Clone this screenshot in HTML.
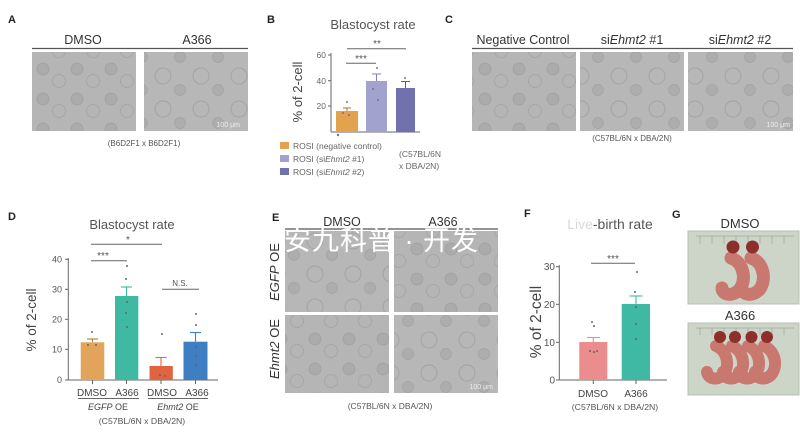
<!DOCTYPE html>
<html><head><meta charset="utf-8"><style>
html,body{margin:0;padding:0;background:#fff;}
svg{display:block;}
text{font-family:"Liberation Sans","Noto Sans CJK SC",sans-serif;}
</style></head><body>
<svg width="800" height="436" viewBox="0 0 800 436" xmlns="http://www.w3.org/2000/svg">
<defs>
<pattern id="e1" width="34" height="30" patternUnits="userSpaceOnUse">
<rect width="34" height="30" fill="#b5b5b5"/>
<circle cx="9" cy="9" r="6" fill="#ababab" stroke="#a0a0a0" stroke-width="0.8"/>
<circle cx="25" cy="21" r="6.5" fill="none" stroke="#a3a3a3" stroke-width="0.8"/>
</pattern>
<pattern id="e2" width="38" height="33" patternUnits="userSpaceOnUse">
<rect width="38" height="33" fill="#b7b7b7"/>
<circle cx="11" cy="10" r="8" fill="none" stroke="#a2a2a2" stroke-width="0.9"/>
<circle cx="28" cy="24" r="5.5" fill="#adadad" stroke="#a2a2a2" stroke-width="0.7"/>
</pattern>
</defs>

<!-- panel labels -->
<g font-weight="bold" font-size="11" fill="#222">
<text x="8" y="23">A</text>
<text x="267" y="23">B</text>
<text x="445" y="23">C</text>
<text x="8" y="220">D</text>
<text x="272" y="221">E</text>
<text x="524" y="217">F</text>
<text x="672" y="218">G</text>
</g>

<!-- A -->
<g font-size="12.5" fill="#333" text-anchor="middle">
<text x="83" y="44">DMSO</text>
<text x="197" y="44">A366</text>
</g>
<line x1="32" y1="48.5" x2="248" y2="48.5" stroke="#555" stroke-width="1.2"/>
<rect x="32" y="52" width="104" height="79" fill="url(#e1)"/>
<rect x="144" y="52" width="104" height="79" fill="url(#e2)"/>
<text x="240" y="127" font-size="7" fill="#eee" text-anchor="end">100 μm</text>
<text x="144" y="146" font-size="8" fill="#555" text-anchor="middle">(B6D2F1 x B6D2F1)</text>

<!-- B -->
<text x="373" y="29" font-size="13" fill="#555" text-anchor="middle">Blastocyst rate</text>
<text transform="translate(302,92) rotate(-90)" font-size="13" fill="#444" text-anchor="middle">% of 2-cell</text>
<g stroke="#666" stroke-width="1">
<line x1="331" y1="53" x2="331" y2="132"/>
<line x1="331" y1="132" x2="420" y2="132"/>
<line x1="328" y1="55" x2="331" y2="55"/>
<line x1="328" y1="80.7" x2="331" y2="80.7"/>
<line x1="328" y1="106" x2="331" y2="106"/>
</g>
<g font-size="8.5" fill="#666" text-anchor="end">
<text x="326" y="58">60</text>
<text x="326" y="84">40</text>
<text x="326" y="109">20</text>
</g>
<rect x="336" y="111" width="22" height="21" fill="#e2a24e"/>
<rect x="366" y="81" width="21" height="51" fill="#a2a2cf"/>
<rect x="396" y="88" width="19" height="44" fill="#7172ad"/>
<g stroke-width="1">
<line x1="347" y1="111" x2="347" y2="108" stroke="#b07020"/><line x1="343" y1="108" x2="351" y2="108" stroke="#b07020"/>
<line x1="376.5" y1="81" x2="376.5" y2="74" stroke="#8080b8"/><line x1="372" y1="74" x2="381" y2="74" stroke="#8080b8"/>
<line x1="405.5" y1="88" x2="405.5" y2="81.5" stroke="#5a5a98"/><line x1="401" y1="81.5" x2="410" y2="81.5" stroke="#5a5a98"/>
</g>
<g fill="#777">
<circle cx="347" cy="102" r="1"/><circle cx="343" cy="113" r="1"/><circle cx="349" cy="115" r="1"/><circle cx="338" cy="135" r="1.2"/>
<circle cx="377" cy="68" r="1"/><circle cx="373" cy="89" r="1"/><circle cx="378" cy="100" r="1"/>
<circle cx="405" cy="78" r="1"/><circle cx="404" cy="98" r="1"/>
</g>
<g stroke="#666" stroke-width="1">
<line x1="346" y1="63.3" x2="376" y2="63.3"/>
<line x1="347" y1="48.7" x2="406" y2="48.7"/>
</g>
<g font-size="10" fill="#555" text-anchor="middle">
<text x="361" y="62">***</text>
<text x="377" y="47">**</text>
</g>
<rect x="280" y="142" width="9" height="7" fill="#e2a24e"/>
<rect x="280" y="155" width="9" height="7" fill="#a2a2cf"/>
<rect x="280" y="168" width="9" height="7" fill="#7172ad"/>
<g font-size="8.5" fill="#666">
<text x="293" y="149">ROSI (negative control)</text>
<text x="293" y="162">ROSI (si<tspan font-style="italic">Ehmt2</tspan> #1)</text>
<text x="293" y="175">ROSI (si<tspan font-style="italic">Ehmt2</tspan> #2)</text>
<text x="399" y="157">(C57BL/6N</text>
<text x="399" y="169">x DBA/2N)</text>
</g>

<!-- C -->
<g font-size="12.5" fill="#333" text-anchor="middle">
<text x="523" y="44">Negative Control</text>
<text x="632" y="44">si<tspan font-style="italic">Ehmt2</tspan> #1</text>
<text x="740" y="44">si<tspan font-style="italic">Ehmt2</tspan> #2</text>
</g>
<line x1="472" y1="48.5" x2="793" y2="48.5" stroke="#555" stroke-width="1.2"/>
<rect x="472" y="52" width="104" height="79" fill="url(#e1)"/>
<rect x="580" y="52" width="104" height="79" fill="url(#e2)"/>
<rect x="688" y="52" width="105" height="79" fill="url(#e2)"/>
<text x="790" y="127" font-size="7" fill="#eee" text-anchor="end">100 μm</text>
<text x="632" y="141" font-size="8" fill="#555" text-anchor="middle">(C57BL/6N x DBA/2N)</text>

<!-- D -->
<text x="132" y="229" font-size="13" fill="#555" text-anchor="middle">Blastocyst rate</text>
<text transform="translate(36,320) rotate(-90)" font-size="13.5" fill="#444" text-anchor="middle">% of 2-cell</text>
<g stroke="#666" stroke-width="1">
<line x1="68.3" y1="258" x2="68.3" y2="380"/>
<line x1="68.3" y1="380" x2="218" y2="380"/>
<line x1="65" y1="259.3" x2="68.3" y2="259.3"/>
<line x1="65" y1="289.3" x2="68.3" y2="289.3"/>
<line x1="65" y1="319.3" x2="68.3" y2="319.3"/>
<line x1="65" y1="349.3" x2="68.3" y2="349.3"/>
<line x1="65" y1="380" x2="68.3" y2="380"/>
<line x1="92.5" y1="380" x2="92.5" y2="384"/>
<line x1="126.5" y1="380" x2="126.5" y2="384"/>
<line x1="161" y1="380" x2="161" y2="384"/>
<line x1="195.5" y1="380" x2="195.5" y2="384"/>
</g>
<g font-size="9" fill="#555" text-anchor="end">
<text x="62" y="262.5">40</text>
<text x="62" y="292.5">30</text>
<text x="62" y="322.5">20</text>
<text x="62" y="352.5">10</text>
<text x="62" y="383">0</text>
</g>
<rect x="80.7" y="342.3" width="23.6" height="37.7" fill="#e2a45a"/>
<rect x="115" y="296" width="23.3" height="84" fill="#3fb9a2"/>
<rect x="149.5" y="366" width="23.3" height="14" fill="#df643f"/>
<rect x="183.5" y="341.7" width="24" height="38.3" fill="#3d7fc2"/>
<g stroke-width="1.1">
<line x1="92.5" y1="342" x2="92.5" y2="339" stroke="#b47a30"/><line x1="87" y1="339" x2="98" y2="339" stroke="#b47a30"/>
<line x1="126.5" y1="296" x2="126.5" y2="287" stroke="#3fb9a2"/><line x1="121" y1="287" x2="132" y2="287" stroke="#3fb9a2"/>
<line x1="161" y1="366" x2="161" y2="357.5" stroke="#df643f"/><line x1="155.5" y1="357.5" x2="166.5" y2="357.5" stroke="#df643f"/>
<line x1="195.5" y1="341.7" x2="195.5" y2="332.5" stroke="#3d7fc2"/><line x1="190" y1="332.5" x2="201" y2="332.5" stroke="#3d7fc2"/>
</g>
<g fill="#666">
<circle cx="92" cy="332" r="1"/><circle cx="88" cy="345" r="1"/><circle cx="96" cy="345" r="1"/>
<circle cx="127" cy="266" r="1"/><circle cx="126" cy="279" r="1"/><circle cx="127" cy="302" r="1"/><circle cx="126" cy="313" r="1"/><circle cx="127" cy="327" r="1"/>
<circle cx="162" cy="334" r="1"/><circle cx="160" cy="375" r="1"/><circle cx="165" cy="376" r="1"/>
<circle cx="196" cy="314" r="1"/><circle cx="196" cy="325" r="1"/><circle cx="196" cy="347" r="1"/><circle cx="196" cy="356" r="1"/><circle cx="196" cy="365" r="1"/>
</g>
<g stroke="#666" stroke-width="1">
<line x1="91" y1="244.3" x2="162" y2="244.3"/>
<line x1="91" y1="260.7" x2="127" y2="260.7"/>
<line x1="162" y1="289.3" x2="199" y2="289.3"/>
<line x1="78" y1="398.5" x2="139" y2="398.5"/>
<line x1="148" y1="398.5" x2="208" y2="398.5"/>
</g>
<g fill="#555" text-anchor="middle">
<text x="128" y="243" font-size="10">*</text>
<text x="103" y="259" font-size="10">***</text>
<text x="180" y="286" font-size="8">N.S.</text>
</g>
<g font-size="10" fill="#444" text-anchor="middle">
<text x="92" y="396">DMSO</text>
<text x="127" y="396">A366</text>
<text x="162" y="396">DMSO</text>
<text x="197" y="396">A366</text>
</g>
<g font-size="9" fill="#444" text-anchor="middle">
<text x="108" y="410"><tspan font-style="italic">EGFP</tspan> OE</text>
<text x="178" y="410"><tspan font-style="italic">Ehmt2</tspan> OE</text>
</g>
<text x="142" y="424" font-size="8.7" fill="#555" text-anchor="middle">(C57BL/6N x DBA/2N)</text>

<!-- E -->
<g font-size="12.5" fill="#333" text-anchor="middle">
<text x="342" y="226">DMSO</text>
<text x="443" y="226">A366</text>
</g>
<line x1="285" y1="229" x2="498" y2="229" stroke="#555" stroke-width="1.2"/>
<rect x="285" y="231" width="104" height="81" fill="url(#e2)"/>
<rect x="394" y="231" width="104" height="81" fill="url(#e1)"/>
<rect x="285" y="315" width="104" height="78" fill="url(#e1)"/>
<rect x="394" y="315" width="104" height="78" fill="url(#e2)"/>
<text x="493" y="389" font-size="7" fill="#eee" text-anchor="end">100 μm</text>
<g font-size="13" fill="#333" text-anchor="middle">
<text transform="translate(279,272) rotate(-90)"><tspan font-style="italic">EGFP</tspan> OE</text>
<text transform="translate(279,349) rotate(-90)"><tspan font-style="italic">Ehmt2</tspan> OE</text>
</g>
<text x="390" y="409" font-size="8.5" fill="#555" text-anchor="middle">(C57BL/6N x DBA/2N)</text>
<text x="284" y="250" font-size="27" fill="#fff" letter-spacing="1">安九科普 · 开发</text>

<!-- F -->
<text x="610" y="229" font-size="14" fill="#555" text-anchor="middle"><tspan fill="#d8d8d8">Live</tspan>-birth rate</text>
<text transform="translate(541,322) rotate(-90)" font-size="15.5" fill="#444" text-anchor="middle">% of 2-cell</text>
<g stroke="#666" stroke-width="1">
<line x1="559.3" y1="265" x2="559.3" y2="380"/>
<line x1="559.3" y1="380" x2="667" y2="380"/>
<line x1="556" y1="266.7" x2="559.3" y2="266.7"/>
<line x1="556" y1="304.3" x2="559.3" y2="304.3"/>
<line x1="556" y1="342.3" x2="559.3" y2="342.3"/>
<line x1="556" y1="380" x2="559.3" y2="380"/>
<line x1="593.3" y1="380" x2="593.3" y2="384"/>
<line x1="636" y1="380" x2="636" y2="384"/>
<line x1="591" y1="263.3" x2="635" y2="263.3"/>
</g>
<g font-size="10" fill="#555" text-anchor="end">
<text x="555" y="270">30</text>
<text x="555" y="308">20</text>
<text x="555" y="346">10</text>
<text x="555" y="383.5">0</text>
</g>
<rect x="579.3" y="342" width="28" height="38" fill="#eb8c8e"/>
<rect x="621.7" y="304" width="28.3" height="76" fill="#3fb9a4"/>
<g stroke-width="1.1">
<line x1="593.3" y1="342" x2="593.3" y2="337.5" stroke="#eb8c8e"/><line x1="587" y1="337.5" x2="600" y2="337.5" stroke="#eb8c8e"/>
<line x1="636" y1="304" x2="636" y2="296" stroke="#3fb9a4"/><line x1="629.5" y1="296" x2="642.5" y2="296" stroke="#3fb9a4"/>
</g>
<g fill="#666">
<circle cx="592" cy="322" r="1"/><circle cx="594" cy="326" r="1"/><circle cx="590" cy="351" r="1"/><circle cx="594" cy="352" r="1"/><circle cx="597" cy="351" r="1"/>
<circle cx="637" cy="272" r="1"/><circle cx="635" cy="292" r="1"/><circle cx="636" cy="307" r="1"/><circle cx="636" cy="324" r="1"/><circle cx="636" cy="339" r="1"/>
</g>
<text x="613" y="262" font-size="10" fill="#555" text-anchor="middle">***</text>
<g font-size="10" fill="#444" text-anchor="middle">
<text x="593" y="397">DMSO</text>
<text x="636" y="397">A366</text>
</g>
<text x="615" y="410" font-size="8.7" fill="#555" text-anchor="middle">(C57BL/6N x DBA/2N)</text>

<!-- G -->
<g font-size="13" fill="#333" text-anchor="middle">
<text x="740" y="228">DMSO</text>
<text x="740" y="320">A366</text>
</g>
<rect x="688" y="231" width="111" height="73" fill="#ccd5c7" stroke="#b9c0b4" stroke-width="1"/>
<g stroke="#8c948a" stroke-width="0.5">
<line x1="696" y1="236" x2="794" y2="236"/>
<line x1="700" y1="236" x2="700" y2="244"/><line x1="712" y1="236" x2="712" y2="244"/><line x1="724" y1="236" x2="724" y2="244"/><line x1="736" y1="236" x2="736" y2="244"/><line x1="748" y1="236" x2="748" y2="244"/><line x1="760" y1="236" x2="760" y2="244"/><line x1="772" y1="236" x2="772" y2="244"/><line x1="784" y1="236" x2="784" y2="244"/>
</g>
<g fill="none" stroke="#c97870" stroke-width="13" stroke-linecap="round">
<path d="M731,258 C744,262 747,281 739,290 C732,297 722,295 722,288"/>
<path d="M751,258 C764,262 767,281 759,290 C752,297 742,295 742,288"/>
</g>
<circle cx="733" cy="247" r="6.5" fill="#8e2f2c"/>
<circle cx="752.5" cy="247" r="6.5" fill="#8e2f2c"/>
<rect x="688" y="323" width="111" height="72" fill="#ccd5c7" stroke="#b9c0b4" stroke-width="1"/>
<g stroke="#8c948a" stroke-width="0.5">
<line x1="696" y1="328" x2="794" y2="328"/>
<line x1="700" y1="328" x2="700" y2="335"/><line x1="712" y1="328" x2="712" y2="335"/><line x1="724" y1="328" x2="724" y2="335"/><line x1="736" y1="328" x2="736" y2="335"/><line x1="748" y1="328" x2="748" y2="335"/><line x1="760" y1="328" x2="760" y2="335"/><line x1="772" y1="328" x2="772" y2="335"/><line x1="784" y1="328" x2="784" y2="335"/>
</g>
<g fill="none" stroke="#c97870" stroke-width="12" stroke-linecap="round">
<path d="M716,346 C728,351 730,367 723,375 C717,381 708,379 707,372"/>
<path d="M732,346 C744,351 746,367 739,375 C733,381 724,379 723,372"/>
<path d="M748,346 C760,351 762,367 755,375 C749,381 740,379 739,372"/>
<path d="M764,346 C776,351 778,367 771,375 C765,381 756,379 755,372"/>
</g>
<circle cx="720" cy="337" r="6" fill="#8e2f2c"/>
<circle cx="735" cy="337" r="6" fill="#8e2f2c"/>
<circle cx="751.5" cy="337" r="6" fill="#8e2f2c"/>
<circle cx="767" cy="337" r="6" fill="#8e2f2c"/>
</svg>
</body></html>
